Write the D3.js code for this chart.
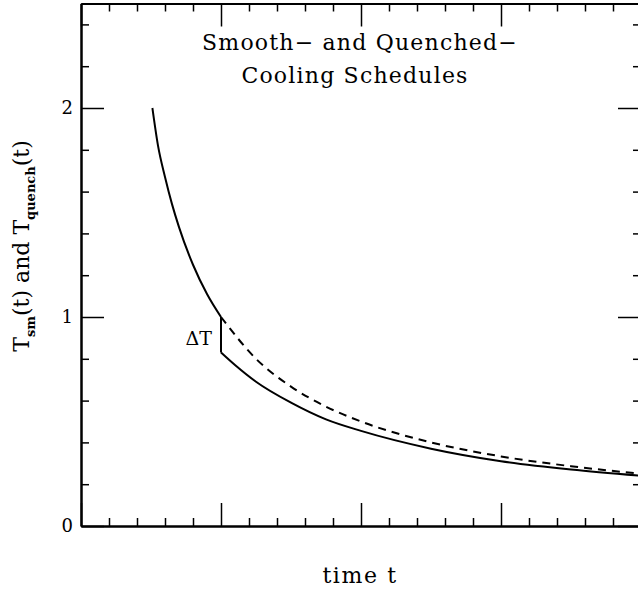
<html>
<head>
  <meta charset="utf-8">
  <script src="https://d3js.org/d3.v7.min.js"></script>
  <style>
    body { margin: 0; background: white; }
    text { font-family: "DejaVu Serif", serif; fill: black; }
  </style>
  <script>
    // values
    var tSmooth = [0.51, 0.55, 0.6, 0.65, 0.7, 0.8, 0.9, 1.0];
    var TSmooth = [2.0, 1.82, 1.67, 1.54, 1.43, 1.25, 1.11, 1.0];
    var tDashed = [1.0, 1.25, 1.5, 1.75, 2.0, 2.5, 3.0, 3.5, 4.0];
    var TDashed = [1.0, 0.8, 0.667, 0.571, 0.5, 0.4, 0.333, 0.286, 0.25];
    var tStep = [1.0, 1.0];
    var TStep = [1.0, 0.83];
    var tQuench = [1.0, 1.1, 1.25, 1.5, 1.75, 2.0, 2.5, 3.0, 3.5, 4.0];
    var TQuench = [0.83, 0.77, 0.69, 0.59, 0.51, 0.455, 0.37, 0.31, 0.27, 0.24];
    var yMajor = [0, 1, 2];
    var yTickLabels = ["0", "1", "2"];

    function makeChart() {
        var svg = d3.select("#chart")
        var x = d3.scaleLinear().domain([0, 4]).range([81, 641])
        var y = d3.scaleLinear().domain([0, 2.5]).range([526, 3.5])

        var xMajor = d3.range(0, 4.01, 1)
        var xMinor = d3.range(0, 4.01, 0.2).filter(v => Math.abs(v - Math.round(v)) > 1e-6)
        var yMinor = d3.range(0, 2.51, 0.2).filter(v => Math.abs(v - Math.round(v)) > 1e-6)

        function ax(gen, tr) {
            var g = svg.append("g").attr("transform", tr).call(gen)
            g.selectAll(".domain").attr("stroke-width", 2)
            g.selectAll(".tick line").attr("stroke-width", 1.5)
            return g
        }
        // bottom / top
        ax(d3.axisBottom(x).tickValues(xMajor).tickSizeInner(-23).tickSizeOuter(0).tickFormat(""), "translate(0,526)")
        ax(d3.axisBottom(x).tickValues(xMinor).tickSizeInner(-8).tickSizeOuter(0).tickFormat(""), "translate(0,526)")
        ax(d3.axisTop(x).tickValues(xMajor).tickSizeInner(-23).tickSizeOuter(0).tickFormat(""), "translate(0,3.5)")
        ax(d3.axisTop(x).tickValues(xMinor).tickSizeInner(-8).tickSizeOuter(0).tickFormat(""), "translate(0,3.5)")
        // left / right
        var gl = ax(d3.axisLeft(y).tickValues(yMajor).tickSizeInner(-23).tickSizeOuter(0)
            .tickPadding(10).tickFormat((d, i) => yTickLabels[i]), "translate(81,0)")
        gl.selectAll("text").attr("font-size", 18).attr("font-family", "DejaVu Serif").attr("x", -8)
        ax(d3.axisLeft(y).tickValues(yMinor).tickSizeInner(-8).tickSizeOuter(0).tickFormat(""), "translate(81,0)")
        ax(d3.axisRight(y).tickValues(yMajor).tickSizeInner(-23).tickSizeOuter(0).tickFormat(""), "translate(641,0)")
        ax(d3.axisRight(y).tickValues(yMinor).tickSizeInner(-8).tickSizeOuter(0).tickFormat(""), "translate(641,0)")

        var line = d3.line().x(d => x(d[0])).y(d => y(d[1])).curve(d3.curveMonotoneX)
        var straight = d3.line().x(d => x(d[0])).y(d => y(d[1]))

        svg.append("path").datum(d3.zip(tSmooth, TSmooth)).attr("d", line)
            .attr("fill", "none").attr("stroke", "black").attr("stroke-width", 2)
        svg.append("path").datum(d3.zip(tDashed, TDashed)).attr("d", line)
            .attr("fill", "none").attr("stroke", "black").attr("stroke-width", 2)
            .attr("stroke-dasharray", "8,6")
        svg.append("path").datum(d3.zip(tStep, TStep)).attr("d", straight)
            .attr("fill", "none").attr("stroke", "black").attr("stroke-width", 2)
        svg.append("path").datum(d3.zip(tQuench, TQuench)).attr("d", line)
            .attr("fill", "none").attr("stroke", "black").attr("stroke-width", 2)

        svg.append("text").attr("x", 212).attr("y", 345).attr("text-anchor", "end")
            .attr("font-size", 19).text("\u0394T")

        svg.append("text").attr("x", 360).attr("y", 50).attr("text-anchor", "middle")
            .attr("font-size", 22).attr("letter-spacing", 1.2).text("Smooth\u2212 and Quenched\u2212")
        svg.append("text").attr("x", 355).attr("y", 83).attr("text-anchor", "middle")
            .attr("font-size", 22).attr("letter-spacing", 1.2).text("Cooling Schedules")

        svg.append("text").attr("x", 360).attr("y", 583).attr("text-anchor", "middle")
            .attr("font-size", 22).attr("letter-spacing", 1.6).text("time t")

        var yl = svg.append("text").attr("transform", "translate(29,246) rotate(-90)")
            .attr("text-anchor", "middle").attr("font-size", 22)
        yl.append("tspan").text("T")
        yl.append("tspan").attr("font-size", 13).attr("font-weight", "bold").attr("dy", 6).text("sm")
        yl.append("tspan").attr("dy", -6).text("(t) and T")
        yl.append("tspan").attr("font-size", 13).attr("font-weight", "bold").attr("dy", 6).text("quench")
        yl.append("tspan").attr("dy", -6).text("(t)")
    }
  </script>
</head>
<body onload="makeChart()">
  <svg id="chart" width="638" height="594"></svg>
</body>
</html>
